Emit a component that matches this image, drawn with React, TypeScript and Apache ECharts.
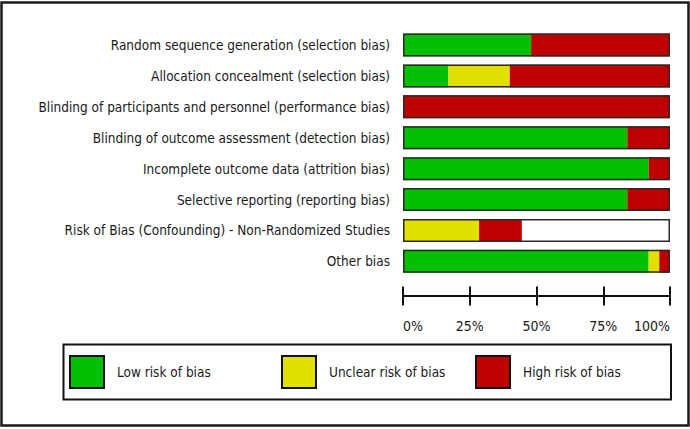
import React, { useEffect, useRef } from "react";
import * as echarts from "echarts";

const categories = [
  "Random sequence generation (selection bias)",
  "Allocation concealment (selection bias)",
  "Blinding of participants and personnel (performance bias)",
  "Blinding of outcome assessment (detection bias)",
  "Incomplete outcome data (attrition bias)",
  "Selective reporting (reporting bias)",
  "Risk of Bias (Confounding) - Non-Randomized Studies",
  "Other bias",
];
const lowRisk = [48, 17, 0, 84, 92, 84, 0, 92];
const unclearRisk = [0, 23, 0, 0, 0, 0, 28.5, 4];
const highRisk = [52, 60, 100, 16, 8, 16, 16, 4];
const barTotal = [100, 100, 100, 100, 100, 100, 100, 100];
const tickValues = [0, 25, 50, 75, 100];
const legendNames = ["Low risk of bias", "Unclear risk of bias", "High risk of bias"];

const FONT = '"DejaVu Sans Condensed", "Liberation Sans", sans-serif';
const GREEN = "#03BF03";
const YELLOW = "#E2E000";
const RED = "#BF0000";

export default function App() {
  const ref = useRef<HTMLDivElement>(null);
  useEffect(() => {
    if (!ref.current) return;
    const chart = echarts.init(ref.current, undefined, { renderer: "svg" });
    const barW = 23;
    const seg = (name: string, data: number[], color: string) => ({
      name,
      type: "bar",
      stack: "risk",
      data,
      barWidth: barW,
      barGap: "-100%",
      itemStyle: { color },
      emphasis: { disabled: true },
    });
    const legendAt = (name: string, left: number) => ({
      left,
      top: 355,
      data: [name],
      icon: "rect",
      itemWidth: 34,
      itemHeight: 32,
      padding: 0,
      selectedMode: false,
      itemStyle: { borderColor: "#111", borderWidth: 2 },
      textStyle: {
        fontFamily: FONT,
        fontSize: 13.5,
        color: "#1a1a1a",
        padding: [0, 0, 0, 8],
      },
    });
    chart.setOption({
      animation: false,
      backgroundColor: "#ffffff",
      grid: {
        left: 403,
        right: 20,
        top: 29.6,
        bottom: 152.2,
        containLabel: false,
        outerBoundsMode: "none",
      },
      xAxis: [
        {
          type: "value",
          min: 0,
          max: 100,
          interval: 25,
          position: "bottom",
          offset: 19.2,
          splitLine: { show: false },
          axisLine: { show: true, lineStyle: { color: "#111", width: 2 } },
          axisTick: { show: true, inside: false, length: 9.5, lineStyle: { color: "#111", width: 2 } },
          axisLabel: {
            show: true,
            margin: 23,
            fontFamily: FONT,
            fontSize: 14,
            color: "#1a1a1a",
            formatter: (v: number) => (tickValues.includes(v) ? v + "%" : ""),
            alignMinLabel: "left",
            alignMaxLabel: "right",
          },
        },
        {
          type: "value",
          min: 0,
          max: 100,
          interval: 25,
          position: "bottom",
          offset: 19.2,
          splitLine: { show: false },
          axisLine: { show: false },
          axisTick: { show: true, inside: true, length: 9.5, lineStyle: { color: "#111", width: 2 } },
          axisLabel: { show: false },
        },
      ],
      yAxis: {
        type: "category",
        inverse: true,
        data: categories,
        axisLine: { show: false },
        axisTick: { show: false },
        axisLabel: {
          margin: 13,
          fontFamily: FONT,
          fontSize: 13.5,
          color: "#1a1a1a",
        },
      },
      legend: [
        legendAt(legendNames[0], 69),
        legendAt(legendNames[1], 281),
        legendAt(legendNames[2], 475),
      ],
      series: [
        seg(legendNames[0], lowRisk, GREEN),
        seg(legendNames[1], unclearRisk, YELLOW),
        seg(legendNames[2], highRisk, RED),
        {
          name: "outline",
          type: "bar",
          data: barTotal,
          barWidth: barW,
          barGap: "-100%",
          z: 5,
          silent: true,
          itemStyle: { color: "rgba(0,0,0,0)", borderColor: "#2a2a2a", borderWidth: 1.5 },
          emphasis: { disabled: true },
        },
      ],
      graphic: [
        {
          type: "rect",
          shape: { x: 1.5, y: 2.5, width: 687, height: 423 },
          style: { fill: "none", stroke: "#1a1a1a", lineWidth: 2.5 },
          silent: true,
        },
        {
          type: "rect",
          shape: { x: 63.5, y: 344.5, width: 607.5, height: 55 },
          style: { fill: "none", stroke: "#111", lineWidth: 2 },
          silent: true,
        },
      ],
    });
    return () => chart.dispose();
  }, []);
  return (
    <div
      ref={ref}
      style={{ position: "fixed", left: 0, top: 0, width: 690, height: 429 }}
    />
  );
}
